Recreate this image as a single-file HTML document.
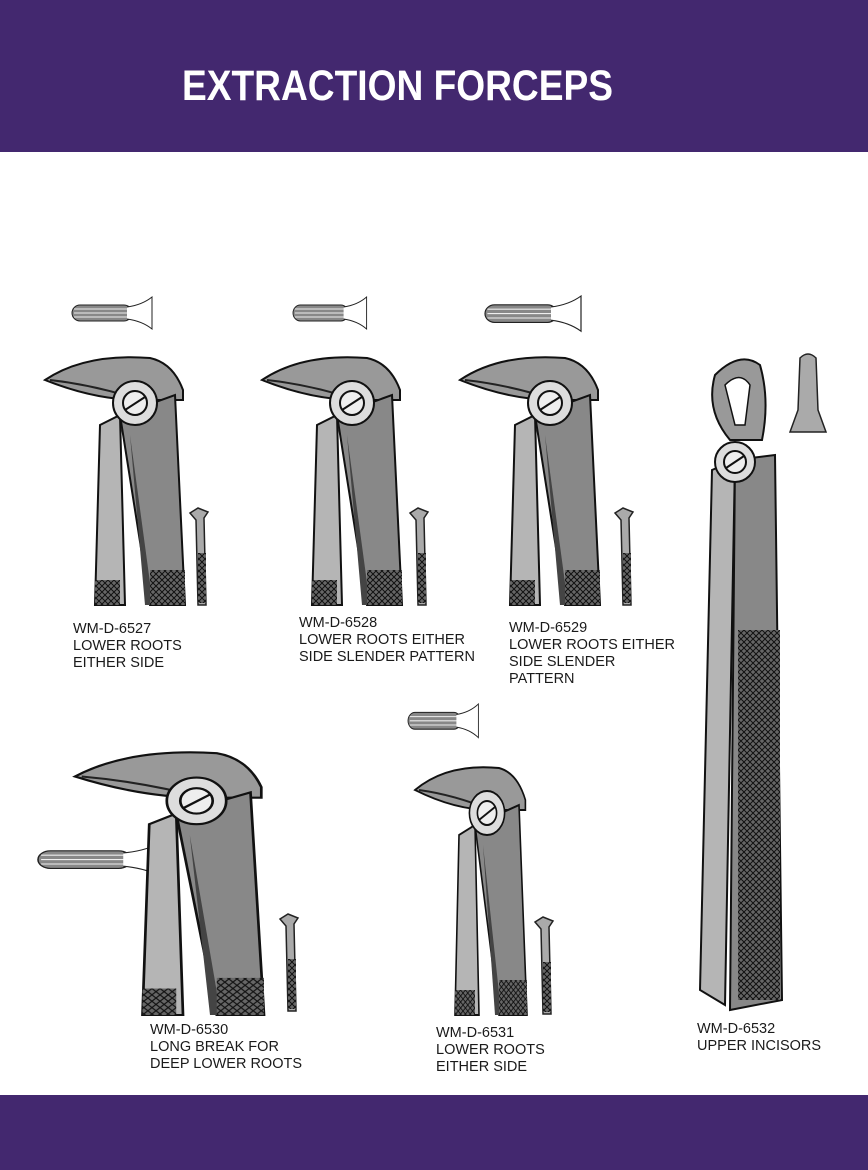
<!DOCTYPE html>
<html><head><meta charset="utf-8"><style>
html,body{margin:0;padding:0;background:#fff}
body{width:868px;height:1170px;position:relative;overflow:hidden;font-family:"Liberation Sans",sans-serif}
.bar{position:absolute;left:0;width:868px;background:#43286f}
.lbl{position:absolute;font-size:14.5px;line-height:17px;color:#1a1a1a}
svg{position:absolute;left:0;top:0}
</style></head><body>
<div class="bar" style="top:0;height:152px"></div>
<div class="bar" style="top:1095px;height:75px"></div>
<svg width="868" height="1170" viewBox="0 0 868 1170">
<defs>
<pattern id="kn" width="6" height="6" patternUnits="userSpaceOnUse">
<rect width="6" height="6" fill="#666"/><path d="M0,0L6,6M6,0L0,6" stroke="#111" stroke-width="1"/>
</pattern>
<g id="lf">
<path d="M0,25 Q40,-2 105,3 Q128,8 138,35 L138,45 L95,45 Q50,45 0,25 Z" fill="#999" stroke="#111" stroke-width="2"/>
<path d="M5,25 Q50,30 95,45" fill="none" stroke="#222" stroke-width="2"/>
<path d="M55,70 L75,60 L80,250 L50,250 Z" fill="#b5b5b5" stroke="#111" stroke-width="2"/>
<path d="M75,60 L130,40 L140,250 L105,250 Z" fill="#888" stroke="#111" stroke-width="2"/>
<path d="M85,80 L100,250 L108,250 Z" fill="#444"/>
<rect x="105" y="215" width="35" height="35" fill="url(#kn)"/>
<rect x="50" y="225" width="25" height="25" fill="url(#kn)"/>
<circle cx="90" cy="48" r="22" fill="#ddd" stroke="#111" stroke-width="2"/>
<circle cx="90" cy="48" r="12" fill="#eee" stroke="#111" stroke-width="2"/>
<path d="M80,55 L100,42" stroke="#111" stroke-width="2"/>
</g>
<g id="tip">
<rect x="0" y="8" width="60" height="16" rx="8" fill="#888" stroke="#222"/>
<path d="M2,12H58M2,16H58M2,20H58" stroke="#eee"/>
<path d="M55,10 Q70,8 80,0 L80,32 Q70,24 55,22" fill="#fff" stroke="#222"/>
</g>
<g id="mini">
<path d="M0,5 L8,0 L18,4 L14,10 L16,97 L8,97 L6,12 Z" fill="#aaa" stroke="#222" stroke-width="1.5"/>
<rect x="8" y="45" width="8" height="50" fill="url(#kn)"/>
</g>
</defs>
<text x="182" y="100" fill="#fff" font-family="Liberation Sans Narrow, Liberation Sans, sans-serif" font-weight="bold" font-size="43" textLength="431" lengthAdjust="spacingAndGlyphs">EXTRACTION FORCEPS</text>

<use href="#tip" transform="translate(72,297)"/>
<use href="#tip" transform="translate(293,297) scale(0.92,1)"/>
<use href="#tip" transform="translate(485,296) scale(1.2,1.1)"/>
<use href="#tip" transform="translate(38,842) scale(1.55,1.1)"/>
<use href="#tip" transform="translate(408,704) scale(0.88,1.05)"/>

<use href="#lf" transform="translate(45,355)"/>
<use href="#lf" transform="translate(262,355)"/>
<use href="#lf" transform="translate(460,355)"/>
<use href="#lf" transform="translate(75,750) scale(1.35,1.06)"/>
<use href="#lf" transform="translate(415,765) scale(0.8,1)"/>

<use href="#mini" transform="translate(190,508)"/>
<use href="#mini" transform="translate(410,508)"/>
<use href="#mini" transform="translate(615,508)"/>
<use href="#mini" transform="translate(280,914)"/>
<use href="#mini" transform="translate(535,917)"/>

<path d="M715,375 Q740,350 760,365 Q770,400 762,440 L730,440 Q705,410 715,375 Z" fill="#999" stroke="#111" stroke-width="2"/>
<path d="M725,385 Q740,370 750,385 L745,425 L735,425 Z" fill="#fff" stroke="#111" stroke-width="1.5"/>
<path d="M712,470 L735,460 L725,1005 L700,990 Z" fill="#b5b5b5" stroke="#111" stroke-width="2"/>
<path d="M735,460 L775,455 L782,1000 L730,1010 Z" fill="#888" stroke="#111" stroke-width="2"/>
<rect x="738" y="630" width="42" height="370" fill="url(#kn)"/>
<circle cx="735" cy="462" r="20" fill="#ddd" stroke="#111" stroke-width="2"/>
<circle cx="735" cy="462" r="11" fill="#eee" stroke="#111" stroke-width="2"/>
<path d="M726,468 L744,456" stroke="#111" stroke-width="2"/>
<path d="M800,358 Q808,350 816,358 L818,410 L826,432 L790,432 L798,410 Z" fill="#aaa" stroke="#222" stroke-width="1.5"/>
</svg>
<div class="lbl" style="left:73px;top:621px">WM-D-6527<br>LOWER ROOTS<br>EITHER SIDE</div>
<div class="lbl" style="left:299px;top:615px">WM-D-6528<br>LOWER ROOTS EITHER<br>SIDE SLENDER PATTERN</div>
<div class="lbl" style="left:509px;top:620px">WM-D-6529<br>LOWER ROOTS EITHER<br>SIDE SLENDER<br>PATTERN</div>
<div class="lbl" style="left:150px;top:1022px">WM-D-6530<br>LONG BREAK FOR<br>DEEP LOWER ROOTS</div>
<div class="lbl" style="left:436px;top:1025px">WM-D-6531<br>LOWER ROOTS<br>EITHER SIDE</div>
<div class="lbl" style="left:697px;top:1021px">WM-D-6532<br>UPPER INCISORS</div>
</body></html>
